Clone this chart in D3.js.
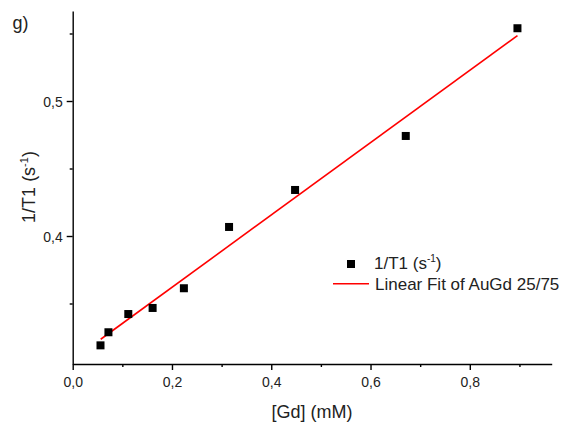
<!DOCTYPE html>
<html>
<head>
<meta charset="utf-8">
<script src="https://cdn.jsdelivr.net/npm/d3@7/dist/d3.min.js"></script>
<style>
  html, body { margin: 0; padding: 0; background: #fff; }
  svg { display: block; font-family: "Liberation Sans", Arial, sans-serif; }
</style>
</head>
<body>
<svg id="chart" width="565" height="423"></svg>
<script>
// Measured relaxation rate vs. Gd concentration
const gdConc = [0.056, 0.072, 0.112, 0.161, 0.224, 0.315, 0.448, 0.671, 0.896];
const r1 = [0.319, 0.3287, 0.3422, 0.3467, 0.3613, 0.4067, 0.4341, 0.4741, 0.5539];

// Linear fit: 1/T1 = intercept + slope * [Gd]
const fitSlope = 0.2679;
const fitIntercept = 0.3084;
const fitRange = [0.0564, 0.896];

// Axis ticks
const xMajorTicks = [0, 0.2, 0.4, 0.6, 0.8];
const xMinorTicks = [0.1, 0.3, 0.5, 0.7, 0.9];
const yMajorTicks = [0.4, 0.5];
const yMinorTicks = [0.35, 0.45, 0.55];

const panelLabel = "g)";
const xTitle = "[Gd] (mM)";
const seriesName = "1/T1 (s";
const fitName = "Linear Fit of AuGd 25/75";

const svg = d3.select("#chart");
const fmt = d3.formatLocale({ decimal: ",", thousands: ".", grouping: [3], currency: ["", ""] }).format(".1f");

const x = d3.scaleLinear().domain([0, 0.965]).range([72.7, 551.7]);
const y = d3.scaleLinear().domain([0.30519, 0.56667]).range([364, 11]);

const axisColor = "#000";

// X axis
const gx = svg.append("g").attr("transform", `translate(0,${y.range()[0]})`);
gx.call(d3.axisBottom(x).tickValues(xMajorTicks).tickFormat(fmt).tickSize(6).tickSizeOuter(0));
const gxMinor = svg.append("g").attr("transform", `translate(0,${y.range()[0]})`);
gxMinor.call(d3.axisBottom(x).tickValues(xMinorTicks).tickFormat("").tickSize(3).tickSizeOuter(0));
gxMinor.select(".domain").remove();

// Y axis
const gy = svg.append("g").attr("transform", `translate(${x.range()[0]},0)`);
gy.call(d3.axisLeft(y).tickValues(yMajorTicks).tickFormat(fmt).tickSize(6).tickSizeOuter(0));
const gyMinor = svg.append("g").attr("transform", `translate(${x.range()[0]},0)`);
gyMinor.call(d3.axisLeft(y).tickValues(yMinorTicks).tickFormat("").tickSize(3).tickSizeOuter(0));
gyMinor.select(".domain").remove();

svg.selectAll(".domain, .tick line").attr("stroke", axisColor).attr("stroke-width", 1.4);
gx.selectAll(".tick text").attr("font-size", 14).attr("font-family", "Liberation Sans, Arial, sans-serif").attr("fill", "#222").attr("dy", "1.05em").attr("y", 8);
gy.selectAll(".tick text").attr("font-size", 14).attr("font-family", "Liberation Sans, Arial, sans-serif").attr("fill", "#222").attr("x", -10).attr("dy", "0.42em");

// Fit line
svg.append("line")
  .attr("x1", x(fitRange[0])).attr("y1", y(fitIntercept + fitSlope * fitRange[0]))
  .attr("x2", x(fitRange[1])).attr("y2", y(fitIntercept + fitSlope * fitRange[1]))
  .attr("stroke", "#f00").attr("stroke-width", 1.6);

// Data markers
const ms = 8;
svg.append("g").selectAll("rect")
  .data(gdConc.map((c, i) => [c, r1[i]]))
  .join("rect")
  .attr("x", d => x(d[0]) - ms / 2)
  .attr("y", d => y(d[1]) - ms / 2)
  .attr("width", ms).attr("height", ms)
  .attr("fill", "#000");

// Axis titles
svg.append("text")
  .attr("x", 312).attr("y", 418)
  .attr("text-anchor", "middle").attr("font-size", 18).attr("fill", "#222")
  .text(xTitle);

const yt = svg.append("text")
  .attr("transform", "translate(34.5,187) rotate(-90)")
  .attr("text-anchor", "middle").attr("font-size", 18).attr("fill", "#222");
yt.append("tspan").text("1/T1 (s");
yt.append("tspan").attr("font-size", 11).attr("dy", -7).text("-1");
yt.append("tspan").attr("dy", 7).text(")");

// Panel label
svg.append("text").attr("x", 12.5).attr("y", 29).attr("font-size", 18).attr("fill", "#222").text(panelLabel);

// Legend
const leg = svg.append("g");
leg.append("rect").attr("x", 351 - ms / 2).attr("y", 264 - ms / 2).attr("width", ms).attr("height", ms).attr("fill", "#000");
const lt = leg.append("text").attr("x", 374).attr("y", 268.5).attr("font-size", 17).attr("fill", "#222");
lt.append("tspan").text(seriesName);
lt.append("tspan").attr("font-size", 10).attr("dy", -7).text("-1");
lt.append("tspan").attr("dy", 7).text(")");
leg.append("line").attr("x1", 333).attr("x2", 369).attr("y1", 283.7).attr("y2", 283.7).attr("stroke", "#f00").attr("stroke-width", 1.6);
leg.append("text").attr("x", 375).attr("y", 289.5).attr("font-size", 17).attr("fill", "#222").text(fitName);
</script>
</body>
</html>
